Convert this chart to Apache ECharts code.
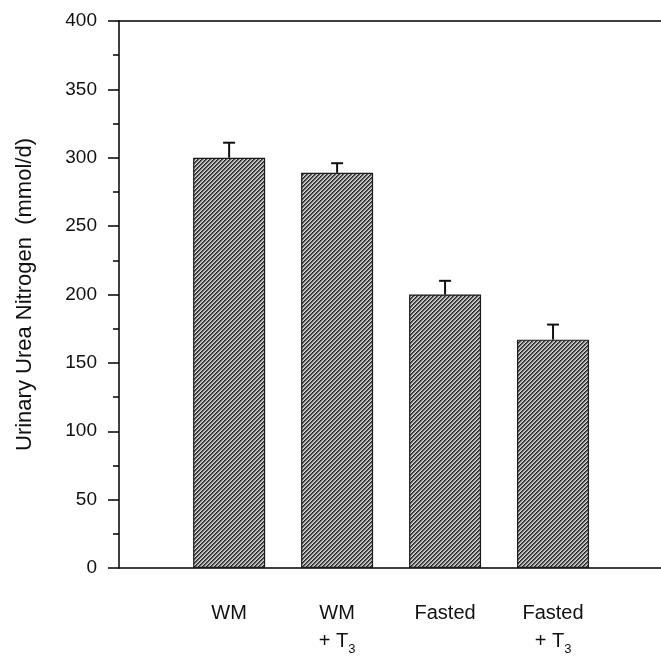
<!DOCTYPE html>
<html>
<head>
<meta charset="utf-8">
<script src="https://cdn.jsdelivr.net/npm/echarts@6/dist/echarts.min.js"></script>
<style>
html,body{margin:0;padding:0;background:#fff;}
#chart{width:661px;height:658px;}
</style>
</head>
<body>
<div id="chart"></div>
<script>
// ---- data ----
var categories = ['WM', 'WM\n+ T{sub|3}', 'Fasted', 'Fasted\n+ T{sub|3}'];
var positions = [1, 2, 3, 4];
var means = [300, 289, 200, 167];
var errors = [11, 7, 10, 11];
var yTicks = [0, 50, 100, 150, 200, 250, 300, 350, 400];
var yTitle = 'Urinary Urea Nitrogen  (mmol/d)';

// ---- hatch pattern ----
function makeHatch() {
  var n = 4;
  var c = document.createElement('canvas');
  c.width = n; c.height = n;
  var ctx = c.getContext('2d');
  var cols = ['#262626', '#5a5a5a', '#a8a8a8', '#d6d6d6'];
  for (var x = 0; x < n; x++) {
    for (var y = 0; y < n; y++) {
      ctx.fillStyle = cols[(x + y) % n];
      ctx.fillRect(x, y, 1, 1);
    }
  }
  return c;
}
var hatch = makeHatch();

var barData = positions.map(function (p, i) { return [p, means[i]]; });
var errData = positions.map(function (p, i) { return [p, means[i], errors[i]]; });

var chart = echarts.init(document.getElementById('chart'));
var FONT = '"Liberation Sans", Arial, Helvetica, sans-serif';

chart.setOption({
  animation: false,
  backgroundColor: '#fff',
  grid: { left: 119, right: 0, top: 21, bottom: 90, containLabel: false },
  xAxis: [{
    type: 'value',
    min: -0.02,
    max: 5,
    splitLine: { show: false },
    axisLine: { show: true, onZero: false, lineStyle: { color: '#000', width: 1.5 } },
    axisTick: { show: false },
    axisLabel: {
      customValues: positions,
      margin: 31,
      fontFamily: FONT,
      fontSize: 20,
      lineHeight: 28,
      color: '#111',
      align: 'center',
      formatter: function (v) {
        var i = positions.indexOf(Math.round(v));
        return i >= 0 ? categories[i] : '';
      },
      rich: {
        sub: { fontSize: 13, fontFamily: FONT, color: '#111', padding: [17, 0, 0, 0] }
      }
    }
  }, {
    type: 'value',
    position: 'top',
    min: -0.02,
    max: 5,
    splitLine: { show: false },
    axisLine: { show: true, onZero: false, lineStyle: { color: '#000', width: 1.5 } },
    axisTick: { show: false },
    axisLabel: { show: false }
  }],
  yAxis: {
    type: 'value',
    min: 0,
    max: 400,
    interval: 50,
    name: yTitle,
    nameLocation: 'middle',
    nameGap: 83,
    nameTextStyle: { fontFamily: FONT, fontSize: 22, color: '#111' },
    splitLine: { show: false },
    axisLine: { show: true, onZero: false, lineStyle: { color: '#000', width: 1.5 } },
    axisTick: { show: true, inside: false, length: 11, lineStyle: { color: '#000', width: 1.5 } },
    minorTick: { show: true, splitNumber: 2, length: 6, lineStyle: { color: '#000', width: 1.5 } },
    axisLabel: {
      margin: 22,
      fontFamily: FONT,
      fontSize: 19,
      color: '#111',
      formatter: function (v) { return yTicks.indexOf(v) >= 0 ? String(v) : ''; }
    }
  },
  series: [{
    type: 'bar',
    data: barData,
    barWidth: 72,
    itemStyle: {
      color: { image: hatch, repeat: 'repeat' },
      borderColor: '#1a1a1a',
      borderWidth: 1.2
    },
    z: 2
  }, {
    type: 'custom',
    data: errData,
    z: 5,
    renderItem: function (params, api) {
      var x = api.value(0), m = api.value(1), e = api.value(2);
      var p0 = api.coord([x, m]);
      var p1 = api.coord([x, m + e]);
      return {
        type: 'group',
        children: [{
          type: 'line',
          shape: { x1: p0[0], y1: p0[1], x2: p1[0], y2: p1[1] },
          style: { stroke: '#111', lineWidth: 2 }
        }, {
          type: 'line',
          shape: { x1: p1[0] - 6, y1: p1[1], x2: p1[0] + 6, y2: p1[1] },
          style: { stroke: '#111', lineWidth: 2 }
        }]
      };
    }
  }]
});
</script>
</body>
</html>
